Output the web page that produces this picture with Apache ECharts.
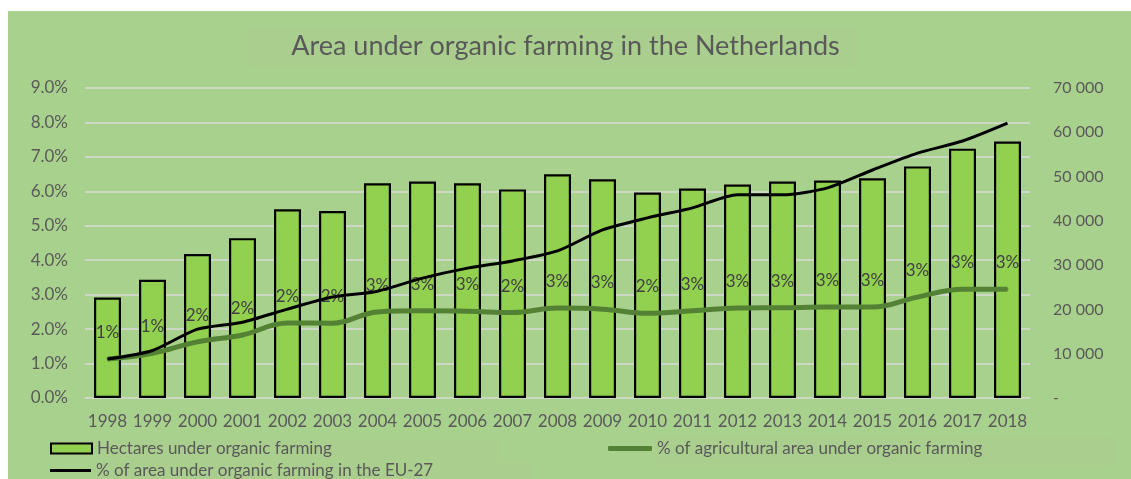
<!DOCTYPE html>
<html>
<head>
<meta charset="utf-8">
<script src="https://cdn.jsdelivr.net/npm/echarts@6/dist/echarts.min.js"></script>
<style>
html,body{margin:0;padding:0;background:#fff;}
#c{width:1131px;height:479px;}
</style>
</head>
<body>
<div id="c"></div>
<script>
const years = ['1998','1999','2000','2001','2002','2003','2004','2005','2006','2007','2008','2009','2010','2011','2012','2013','2014','2015','2016','2017','2018'];
const hectares = [22700,26700,32500,36100,42600,42200,48500,48900,48500,47100,50500,49400,46400,47300,48200,48900,49100,49600,52300,56300,57900];
const pctAgri = [1.13,1.30,1.63,1.83,2.18,2.17,2.50,2.53,2.52,2.48,2.61,2.58,2.46,2.53,2.61,2.62,2.64,2.64,2.93,3.16,3.16];
const pctEU = [1.13,1.38,2.00,2.20,2.58,2.93,3.10,3.48,3.77,3.98,4.27,4.88,5.23,5.52,5.90,5.90,6.10,6.62,7.11,7.46,7.98];
const leftTicks = {min:0, max:9, interval:1};
const rightTicks = {min:0, max:70000, interval:10000};

const FONT = 'Lato';
const GREY = '#595959';
const names = ['Hectares under organic farming','% of agricultural area under organic farming','% of area under organic farming in the EU-27'];

const chart = echarts.init(document.getElementById('c'), null, {renderer:'canvas'});
chart.setOption({
  animation:false,
  backgroundColor:'#fff',
  textStyle:{fontFamily:FONT},
  graphic:[
    {type:'rect', shape:{x:8,y:11,width:1123,height:468}, style:{fill:'#A9D18E'}, z:-10},
    {type:'rect', shape:{x:248,y:27,width:610,height:40}, style:{fill:'#A9CE8D'}, z:-9},
    {type:'rect', shape:{x:95,y:440,width:405,height:20}, style:{fill:'#A9CE8D'}, z:-9},
    {type:'rect', shape:{x:95,y:462,width:438,height:17}, style:{fill:'#A9CE8D'}, z:-9},
    {type:'rect', shape:{x:655,y:437,width:462,height:29}, style:{fill:'#A9CE8D'}, z:-9}
  ],
  title:{
    text:'Area under organic farming in the Netherlands',
    left:'center', top:28,
    textStyle:{fontFamily:FONT, fontSize:27, fontWeight:'normal', color:GREY}
  },
  legend:[
    {data:[{name:names[0], icon:'rect'}], left:50, top:440, padding:0, itemWidth:41, itemHeight:10, itemGap:5,
     textStyle:{fontFamily:FONT, fontSize:17, color:GREY}},
    {data:[{name:names[1], icon:'roundRect', itemStyle:{color:'#548235', borderWidth:0, opacity:1}}], left:608, top:440, padding:0, itemWidth:44, itemHeight:5,
     textStyle:{fontFamily:FONT, fontSize:17, color:GREY}},
    {data:[{name:names[2], icon:'rect', itemStyle:{color:'#000', borderWidth:0}}], left:50, top:462, padding:0, itemWidth:41, itemHeight:3,
     textStyle:{fontFamily:FONT, fontSize:17, color:GREY}}
  ],
  grid:{left:85, right:101, top:88, bottom:81, containLabel:false},
  xAxis:{
    type:'category', data:years,
    axisLine:{show:false}, axisTick:{show:false},
    axisLabel:{fontFamily:FONT, fontSize:17, color:GREY, margin:15, interval:0}
  },
  yAxis:[
    {type:'value', min:leftTicks.min, max:leftTicks.max, interval:leftTicks.interval,
     axisLine:{show:false}, axisTick:{show:false},
     splitLine:{lineStyle:{color:'#D9D9D9', width:1.5}},
     axisLabel:{fontFamily:FONT, fontSize:17, color:GREY, margin:17, formatter:v=>v.toFixed(1)+'%'}},
    {type:'value', min:rightTicks.min, max:rightTicks.max, interval:rightTicks.interval, position:'right',
     axisLine:{show:false}, axisTick:{show:false}, splitLine:{show:false},
     axisLabel:{fontFamily:FONT, fontSize:16, color:GREY, margin:23,
       formatter:v=> v===0 ? '-' : (Math.floor(v/1000)+' '+String(v%1000).padStart(3,'0'))}}
  ],
  series:[
    {name:names[0], type:'bar', yAxisIndex:1, data:hectares, barWidth:27,
     itemStyle:{color:'#92D050', borderColor:'#000', borderWidth:2.2}, z:2},
    {name:names[1], type:'line', yAxisIndex:0, data:pctAgri, smooth:0.4, symbol:'circle', symbolSize:2, showSymbol:true,
     lineStyle:{color:'#548235', width:5}, itemStyle:{color:'#548235'}, z:3,
     label:{show:true, position:'top', distance:17, fontFamily:FONT, fontSize:17, color:'#404040',
       formatter:p=>Math.round(p.value)+'%'}},
    {name:names[2], type:'line', yAxisIndex:0, data:pctEU, smooth:0.25, symbol:'none',
     lineStyle:{color:'#000', width:3}, itemStyle:{color:'#000'}, z:4}
  ]
});
</script>
</body>
</html>
